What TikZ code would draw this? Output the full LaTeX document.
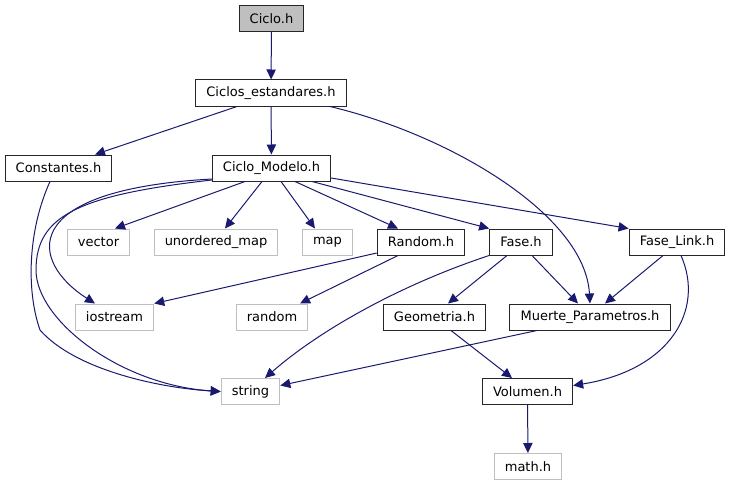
\documentclass[tikz,border=0pt]{standalone}
\usepackage{fontspec}
\setmainfont{DejaVu Sans}
\usetikzlibrary{arrows.meta,calc}
\definecolor{linkblue}{RGB}{25,25,112}
\definecolor{sysgray}{RGB}{191,191,191}

\begin{document}
\begin{tikzpicture}[x=0.75pt,y=-0.75pt,
    hdr/.style={draw=black!85, line width=0.75pt, fill=white, inner xsep=8pt,
        inner ysep=0pt, minimum height=19.5pt, font=\fontsize{9.75}{11.7}\selectfont},
    sys/.style={hdr, draw=sysgray},
    link/.style={draw=linkblue, line width=0.75pt, -{Triangle[length=7.5pt,width=7pt]}}]
    \useasboundingbox (0,0) rectangle (731,485);

    \node[hdr, fill=sysgray] (ciclo) at (271.5,18.5) {Ciclo.h};
    \node[hdr] (estandares) at (271,93) {Ciclos\_estandares.h};
    \node[hdr] (constantes) at (58.5,168) {Constantes.h};
    \node[hdr] (modelo) at (271.5,168) {Ciclo\_Modelo.h};
    \node[sys] (vector) at (98.5,242) {vector};
    \node[sys] (umap) at (216,242) {unordered\_map};
    \node[sys] (map) at (327.5,242) {map};
    \node[hdr] (random) at (421,242) {Random.h};
    \node[hdr] (fase) at (521,242) {Fase.h};
    \node[hdr] (faselink) at (677,242) {Fase\_Link.h};
    \node[sys] (iostream) at (114.5,317) {iostream};
    \node[sys] (randomlib) at (272,317) {random};
    \node[hdr] (geometria) at (434.5,317) {Geometria.h};
    \node[hdr] (muerte) at (590,317) {Muerte\_Parametros.h};
    \node[sys] (string) at (250.5,391.5) {string};
    \node[hdr] (volumen) at (527.5,391.5) {Volumen.h};
    \node[sys] (math) at (528,466.5) {math.h};

    \draw[link] (ciclo) -- (estandares);
    \draw[link] ($(estandares.south)+(-34,0)$) -- ($(constantes.north)+(36.5,0)$);
    \draw[link] (estandares) -- (modelo);
    \draw[link] ($(estandares.south)+(59,0)$) .. controls (450,135) and (585,215) .. (muerte.north);
    \draw[link] ($(constantes.south)+(-8.5,0)$) .. controls (28,230) and (26,290) .. (40,330)
        .. controls (75,370) and (160,388) .. (string.west);

    \draw[link] ($(modelo.south)+(-26.5,0)$) -- ($(vector.north)+(16.5,0)$);
    \draw[link] ($(modelo.south)+(-9.5,0)$) -- ($(umap.north)+(9,0)$);
    \draw[link] ($(modelo.south)+(9.5,0)$) -- ($(map.north)+(-12.5,0)$);
    \draw[link] ($(modelo.south)+(23.5,0)$) -- ($(random.north)+(-23,0)$);
    \draw[link] ($(modelo.south)+(40.5,0)$) -- (fase.north west);
    \draw[link] ($(modelo.east)+(0,10)$) -- (faselink.north west);
    \draw[link] ($(modelo.west)+(0,11)$) .. controls (15,190) and (30,262) .. ($(iostream.north)+(-19.5,0)$);
    \draw[link] ($(modelo.west)+(0,12)$) .. controls (80,195) and (36,215) .. (36,270)
        .. controls (36,320) and (120,385) .. (string.west);

    \draw[link] ($(random.west)+(0,11)$) -- (iostream.north east);
    \draw[link] ($(random.south)+(-23,0)$) -- ($(randomlib.north)+(28,0)$);

    \draw[link] (fase.south west) .. controls (400,285) and (320,330) .. ($(string.north)+(14.5,0)$);
    \draw[link] ($(fase.south)+(-14,0)$) -- ($(geometria.north)+(13.5,0)$);
    \draw[link] ($(fase.south)+(11,0)$) -- ($(muerte.north)+(-12,0)$);

    \draw[link] ($(faselink.south)+(-14,0)$) -- ($(muerte.north)+(15,0)$);
    \draw[link] ($(faselink.south)+(4,0)$) .. controls (705,310) and (670,370) .. ($(volumen.east)+(0,-6)$);

    \draw[link] ($(geometria.south)+(16.5,0)$) -- ($(volumen.north)+(-15.5,0)$);
    \draw[link] ($(muerte.south)+(-53,0)$) -- ($(string.east)+(0,-6)$);
    \draw[link] (volumen) -- (math);
\end{tikzpicture}
\end{document}
